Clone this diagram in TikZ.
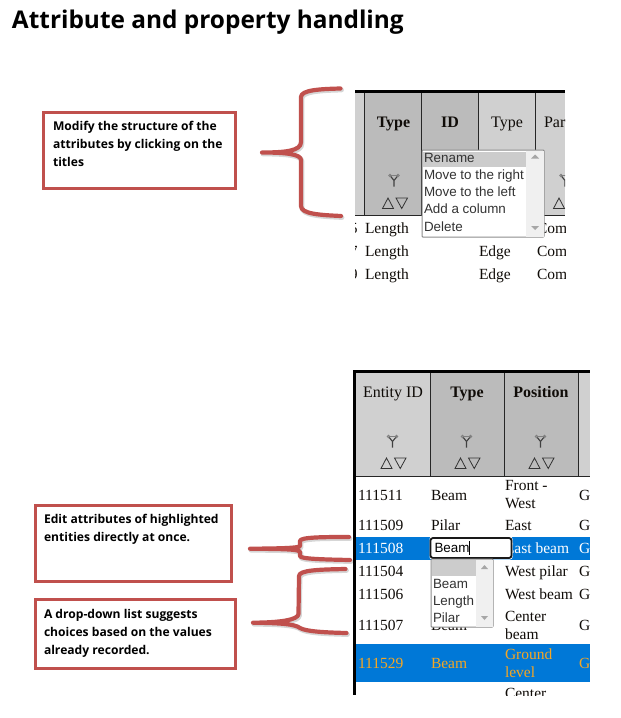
\documentclass[tikz,border=0pt]{standalone}
\usepackage{fontspec}
\setmainfont{Liberation Serif}
\newfontfamily\uifont{Liberation Sans}
\newfontfamily\labelfont{Open Sans}
\definecolor{boxred}{HTML}{C0504D}
\definecolor{hdrlight}{HTML}{D0D0D0}
\definecolor{hdrdark}{HTML}{BBBBBB}
\definecolor{rowblue}{HTML}{0078D7}
\definecolor{rowtext}{HTML}{100C08}
\definecolor{rowgold}{HTML}{F5A623}
\definecolor{scrollgray}{HTML}{F0F0F0}
\definecolor{selgray}{HTML}{CCCCCC}
\tikzset{
  x=1pt,y=-1pt,
  txt/.style={inner sep=0pt,outer sep=0pt,anchor=base west,text=rowtext,font=\fontsize{15.5}{18}\selectfont},
  hdr/.style={inner sep=0pt,outer sep=0pt,anchor=base,text=rowtext,font=\fontsize{16}{18}\selectfont},
  hdrb/.style={hdr,font=\fontsize{16}{18}\selectfont\bfseries},
  ui/.style={inner sep=0pt,outer sep=0pt,anchor=base west,text=black!80,font=\uifont\fontsize{13.4}{16}\selectfont},
  note/.style={inner sep=0pt,outer sep=0pt,anchor=north west,align=left,text=black,font=\labelfont\bfseries\fontsize{12.1}{18}\selectfont},
  redbox/.style={draw=boxred,line width=3pt,fill=white},
  brace/.style={draw=boxred,line width=4.2pt,line cap=round,line join=round},
  braceshadow/.style={draw=black,opacity=.16,line width=4.8pt,line cap=round,line join=round,shift={(1pt,-1.5pt)}},
  sep/.style={draw=black!85,line width=.9pt},
  tri/.style={draw=black!80,line width=.8pt,line join=miter},
}
% filter funnel and the two sort triangles, centred on the column
\newcommand{\sorticons}[3]{%
  \draw[gray,line width=.8pt] (#1-4,#2+1) -- (#1+4,#2+1);
  \draw[black!75,line width=1.1pt] (#1-3.6,#2+1.5) -- (#1,#2+6) -- (#1+3.6,#2+1.5) (#1,#2+6) -- (#1,#2+12);
  \draw[gray,line width=.8pt] (#1-4,#2+1) circle[radius=1.3pt] (#1+4,#2+1) circle[radius=1.3pt];
  \draw[tri] (#1-11.5,#3+10.5) -- (#1-6,#3) -- (#1-.5,#3+10.5) -- cycle;
  \draw[tri] (#1+2,#3) -- (#1+13.5,#3) -- (#1+7.75,#3+10.5) -- cycle;
}
\newcommand{\bracepath}[1]{%
  \draw[braceshadow] #1;
  \draw[brace] #1;
}
\begin{document}
\begin{tikzpicture}
\useasboundingbox[fill=white] (0,0) rectangle (621,718);

% title
\node[inner sep=0pt,outer sep=0pt,anchor=base west,font=\labelfont\bfseries\fontsize{24.4}{30}\selectfont] (title) at (12,28) {Attribute and property handling};

% ---------- upper table
\begin{scope}
\clip (355,90) rectangle (565,285);
\fill[hdrlight] (355,93) rectangle (365,215);
\fill[hdrdark] (365,93) rectangle (478,215);
\fill[hdrlight] (478,93) rectangle (565,215);
\fill[black] (355,90) rectangle (565,93);
\draw[sep] (355,215.5) -- (565,215.5);
\foreach \cx in {364.7,421.3,478,535.7} \draw[sep] (\cx,93) -- (\cx,215);
\node[hdrb] (ta) at (393.5,127) {Type};
\node[hdrb] (tb) at (450,127) {ID};
\node[hdr] (tc) at (507,127) {Type};
\node[hdr,anchor=base west] (td) at (544,127) {Par};
\sorticons{394}{174.5}{198}
\sorticons{565}{174.5}{198}
\node[txt,anchor=base east] (za) at (357.5,233) {5};
\node[txt,anchor=base east] (zb) at (357.5,256) {7};
\node[txt,anchor=base east] (zc) at (357.5,279) {9};
\node[txt] (ra) at (365,233) {Length};
\node[txt] (rb) at (365,256) {Length};
\node[txt] (rc) at (365,279) {Length};
\node[txt] (rd) at (479,256) {Edge};
\node[txt] (re) at (479,279) {Edge};
\node[txt] (rf) at (537,233) {Com};
\node[txt] (rg) at (537,256) {Com};
\node[txt] (rh) at (537,279) {Com};
\end{scope}
% list box of the upper table
\draw[draw=black!45,line width=1pt,fill=white,rounded corners=.8pt] (422,150) rectangle (544,237);
\fill[selgray] (422.5,152) rectangle (526,167);
\fill[scrollgray] (526,150.5) rectangle (543.5,236.5);
\fill[black!35] (531,158.5) -- (535,154.5) -- (539,158.5) -- cycle;
\fill[black!35] (531,226) -- (535,230) -- (539,226) -- cycle;
\node[ui] (ma) at (424,162.3) {Rename};
\node[ui] (mb) at (424,179.5) {Move to the right};
\node[ui] (mc) at (424,196.5) {Move to the left};
\node[ui] (md) at (424,213.7) {Add a column};
\node[ui] (me) at (424,231) {Delete};

% ---------- lower table
\begin{scope}
\clip (353,370) rectangle (590,695);
\fill[hdrlight] (356,373) rectangle (430.5,476);
\fill[hdrdark] (430.5,373) rectangle (578.5,476);
\fill[hdrlight] (578.5,373) rectangle (590,476);
\fill[rowblue] (356,537) rectangle (590,560);
\fill[rowblue] (356,644) rectangle (590,682);
\draw[sep] (356,476) -- (590,476);
\foreach \cx in {430.5,504.5,578.5} \draw[sep] (\cx,373) -- (\cx,476);
\node[hdr] (ha) at (393,397) {Entity ID};
\node[hdrb] (hb) at (467,397) {Type};
\node[hdrb] (hc) at (541,397) {Position};
\sorticons{392.5}{435.5}{458}
\sorticons{466.5}{435.5}{458}
\sorticons{540.5}{435.5}{458}
% rows
\node[txt] (a1) at (358,500) {111511};
\node[txt] (b1) at (431,500) {Beam};
\node[txt] (c1) at (505,490) {Front -};
\node[txt] (c1b) at (505,508) {West};
\node[txt] (d1) at (579,500) {G};
\node[txt] (a2) at (358,530) {111509};
\node[txt] (b2) at (431,530) {Pilar};
\node[txt] (c2) at (505,530) {East};
\node[txt] (d2) at (579,530) {G};
\node[txt,text=white] (a3) at (358,553) {111508};
\node[txt,text=white] (c3) at (505,553) {East beam};
\node[txt,text=white] (d3) at (579,553) {G};
\node[txt] (a4) at (358,576) {111504};
\node[txt] (c4) at (505,576) {West pilar};
\node[txt] (d4) at (579,576) {G};
\node[txt] (a5) at (358,599) {111506};
\node[txt] (c5) at (505,599) {West beam};
\node[txt] (d5) at (579,599) {G};
\node[txt] (a6) at (358,630) {111507};
\node[txt] (b6) at (431,630) {Beam};
\node[txt] (c6) at (505,621) {Center};
\node[txt] (c6b) at (505,639) {beam};
\node[txt] (d6) at (579,630) {G};
\node[txt,text=rowgold] (a7) at (358,668) {111529};
\node[txt,text=rowgold] (b7) at (431,668) {Beam};
\node[txt,text=rowgold] (c7) at (505,659) {Ground};
\node[txt,text=rowgold] (c7b) at (505,677) {level};
\node[txt,text=rowgold] (d7) at (579,668) {G};
\node[txt] (c8) at (505,698) {Center};
\fill[black] (353,370) rectangle (590,373);
\fill[black] (353,370) rectangle (356,695);
\end{scope}
% editing cell
\draw[draw=white,line width=1pt,fill=white,rounded corners=2pt] (430,537) rectangle (512,559);
\draw[draw=black!90,line width=1.8pt,rounded corners=2.5pt] (430.5,538) rectangle (511.5,558);
\node[ui,text=black] (edit) at (434.5,552) {Beam};
\draw[black,line width=.8pt] (469.5,541) -- (469.5,555);
% list box of the lower table
\draw[draw=black!45,line width=1pt,fill=white,rounded corners=.8pt] (431,559) rectangle (493,627);
\fill[selgray] (431.5,559.5) rectangle (476,576);
\fill[scrollgray] (476,559.5) rectangle (492.5,626.5);
\fill[black!35] (481,569) -- (484.5,565) -- (488,569) -- cycle;
\fill[black!35] (481,616) -- (484.5,620) -- (488,616) -- cycle;
\node[ui] (la) at (433,588) {Beam};
\node[ui] (lb) at (433,605) {Length};
\node[ui] (lc) at (433,622) {Pilar};

% ---------- note boxes
\draw[redbox] (43,112) rectangle (235,188);
\node[note] (n1) at (53,121) {Modify the structure of the\\attributes by clicking on the\\titles};
\draw[redbox] (35,505) rectangle (231,581);
\node[note] (n2) at (44,514) {Edit attributes of highlighted\\entities directly at once.};
\draw[redbox] (35,599) rectangle (235,668);
\node[note] (n3) at (44,609) {A drop-down list suggests\\choices based on the values\\already recorded.};

% ---------- braces
\bracepath{(340.5,88.5) .. controls (320,89) and (301,90) .. (301,97) -- (301,142) .. controls (301,151) and (285,152.5) .. (262,152.5) .. controls (285,152.5) and (301,154) .. (301,160) -- (301,206) .. controls (301,214) and (320,215) .. (341,216)}
\bracepath{(349,537) .. controls (325,537) and (300,537) .. (300,541) -- (300,546) .. controls (300,548) and (280,548.5) .. (250,548.7) .. controls (280,549) and (300,549) .. (300,552) -- (300,556) .. controls (300,559) and (325,559.5) .. (350,560)}
\bracepath{(345.5,569) .. controls (320,569.5) and (299,570) .. (299,576) -- (298.5,614) .. controls (298,620) and (280,622.5) .. (253,622.7) .. controls (280,623) and (295,624) .. (300,628) .. controls (306,631.5) and (325,632.5) .. (346.5,633)}
\end{tikzpicture}
\end{document}
